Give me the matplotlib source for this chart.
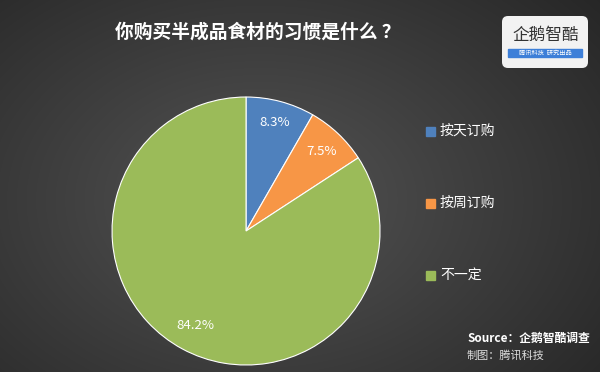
import numpy as np
import matplotlib.pyplot as plt
from matplotlib.patches import FancyBboxPatch, Rectangle

plt.rcParams['font.family'] = ['Noto Sans CJK SC', 'DejaVu Sans']

# data
categories = ['按天订购', '按周订购', '不一定']
shares = [8.3, 7.5, 84.2]
colors = ['#4F81BD', '#F79646', '#9BBB59']
label_dist = [0.84, 0.82, 0.8]
title = '你购买半成品食材的习惯是什么 ？'

fig = plt.figure(figsize=(6, 3.72), dpi=100)

# radial gradient background
bg = fig.add_axes([0, 0, 1, 1])
yy, xx = np.mgrid[0:372, 0:600]
d = np.sqrt(((xx - 260) / 420.0) ** 2 + ((yy - 200) / 300.0) ** 2)
shade = np.clip(0.33 - 0.17 * d, 0.15, 0.33)
bg.imshow(np.dstack([shade] * 3), aspect='auto', extent=[0, 600, 372, 0])
bg.set_xlim(0, 600)
bg.set_ylim(372, 0)
bg.axis('off')

# pie
ax = fig.add_axes([0.1867, 0.0188, 0.4467, 0.7204])
wedges, texts, autotexts = ax.pie(
    shares, colors=colors, startangle=90, counterclock=False,
    autopct='%.1f%%', pctdistance=0.8,
    wedgeprops=dict(edgecolor='white', linewidth=0.8),
    textprops=dict(color='white', fontsize=9.5))
for w, t, r in zip(wedges, autotexts, label_dist):
    a = np.deg2rad((w.theta1 + w.theta2) / 2)
    t.set_position((r * np.cos(a), r * np.sin(a)))
ax.set_xlim(-1, 1)
ax.set_ylim(-1, 1)
ax.set_aspect('equal')
ax.axis('off')

fig.text(0.43, 0.913, title, ha='center', va='center', color='white',
         fontsize=13.5, fontweight='bold')

# legend
for i, (lab, col) in enumerate(zip(categories, colors)):
    y = 131 + i * 72
    bg.add_patch(Rectangle((426, y - 4.5), 9, 9, color=col))
    bg.text(440, y, lab, color='white', fontsize=10, va='center', ha='left')

# logo
bg.add_patch(FancyBboxPatch((502, 16), 86, 52, boxstyle='round,pad=0,rounding_size=6',
                            facecolor='#f2f2f2', edgecolor='none'))
bg.text(546, 35, '企鹅智酷', color='#333333', fontsize=12, ha='center', va='center')
bg.add_patch(Rectangle((508, 49), 74, 8, color='#3d7fd8'))
bg.text(545, 53, '腾讯科技  研究出品', color='white', fontsize=4.5,
        ha='center', va='center', style='italic')

# source
bg.text(467, 338, 'Source：企鹅智酷调查', color='white', fontsize=8.5,
        style='italic', fontweight='bold', ha='left', va='center')
bg.text(467, 355, '制图：腾讯科技', color='#dddddd', fontsize=8,
        style='italic', ha='left', va='center')

fig.savefig('out.png', dpi=100)
